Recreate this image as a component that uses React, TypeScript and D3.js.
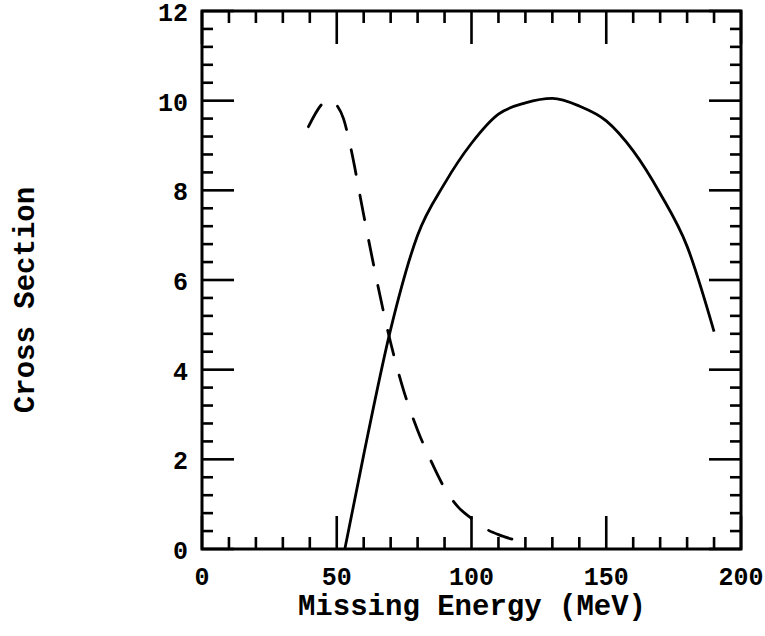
import React from "react";
import * as d3 from "d3";

const solidX = [53, 60, 70, 80, 90, 100, 110, 120, 130, 140, 150, 160, 170, 180, 190];
const solidY = [0, 2.1, 4.9, 7.0, 8.15, 9.05, 9.7, 9.95, 10.05, 9.88, 9.55, 8.88, 7.93, 6.75, 4.85];

const dashX = [39.5, 45, 47.5, 50, 52.5, 55, 60, 65, 70, 75, 80, 85, 90, 95, 100, 105, 110, 115];
const dashY = [9.42, 9.95, 10.02, 9.9, 9.6, 9.0, 7.45, 5.95, 4.6, 3.5, 2.65, 1.96, 1.36, 0.94, 0.68, 0.46, 0.32, 0.22];

const xTickLabels = [0, 50, 100, 150, 200];
const yTickLabels = [0, 2, 4, 6, 8, 10, 12];
const xTitle = "Missing Energy (MeV)";
const yTitle = "Cross Section";

const W = 765;
const H = 636;
const mLeft = 202;
const mRight = 741;
const mTop = 11;
const mBottom = 549;

export default function App() {
  const x = d3.scaleLinear().domain([0, 200]).range([mLeft, mRight]);
  const y = d3.scaleLinear().domain([0, 12]).range([mBottom, mTop]);

  const line = d3
    .line<[number, number]>()
    .x((d) => x(d[0]))
    .y((d) => y(d[1]))
    .curve(d3.curveMonotoneX);

  const solid = line(solidX.map((v, i) => [v, solidY[i]] as [number, number])) || "";
  const dashed = line(dashX.map((v, i) => [v, dashY[i]] as [number, number])) || "";

  const xMinor = d3.range(0, 21).map((i) => i * 10);
  const yMinor = d3.range(0, 31).map((i) => i * 0.4);

  const tickRects: { x: number; y: number; w: number; h: number }[] = [];
  xMinor.forEach((v, i) => {
    const len = i % 5 === 0 ? 33 : 12;
    tickRects.push({ x: x(v) - 1.3, y: mBottom - len, w: 2.6, h: len });
    tickRects.push({ x: x(v) - 1.3, y: mTop, w: 2.6, h: len });
  });
  yMinor.forEach((v, i) => {
    const len = i % 5 === 0 ? 32 : 11;
    tickRects.push({ x: mLeft, y: y(v) - 1.3, w: len, h: 2.6 });
    tickRects.push({ x: mRight - len, y: y(v) - 1.3, w: len, h: 2.6 });
  });

  const font = "'Liberation Mono', 'Courier New', monospace";

  return (
    <svg
      width={W}
      height={H}
      viewBox={`0 0 ${W} ${H}`}
      style={{ position: "absolute", left: 0, top: 0, background: "#fff" }}
    >
      <rect x={0} y={0} width={W} height={H} fill="#fff" />
      {tickRects.map((t, i) => (
        <rect key={"t" + i} x={t.x} y={t.y} width={t.w} height={t.h} fill="#000" />
      ))}
      <rect
        x={mLeft}
        y={mTop}
        width={mRight - mLeft}
        height={mBottom - mTop}
        fill="none"
        stroke="#000"
        strokeWidth={3}
      />
      <path d={solid} fill="none" stroke="#000" strokeWidth={2.8} strokeLinejoin="round" />
      <path
        d={dashed}
        fill="none"
        stroke="#000"
        strokeWidth={2.8}
        strokeDasharray="25,21"
        strokeLinecap="round"
      />
      {xTickLabels.map((v) => (
        <text
          key={"xl" + v}
          x={x(v)}
          y={585}
          textAnchor="middle"
          fontFamily={font}
          fontWeight="bold"
          fontSize={25}
        >
          {v}
        </text>
      ))}
      {yTickLabels.map((v) => (
        <text
          key={"yl" + v}
          x={188}
          y={y(v) + 10}
          textAnchor="end"
          fontFamily={font}
          fontWeight="bold"
          fontSize={25}
        >
          {v}
        </text>
      ))}
      <text
        x={(289 + 655) / 2}
        y={615}
        textAnchor="middle"
        fontFamily={font}
        fontWeight="bold"
        fontSize={29}
      >
        {xTitle}
      </text>
      <text
        transform={`translate(34, 300) rotate(-90)`}
        textAnchor="middle"
        fontFamily={font}
        fontWeight="bold"
        fontSize={29}
      >
        {yTitle}
      </text>
    </svg>
  );
}
